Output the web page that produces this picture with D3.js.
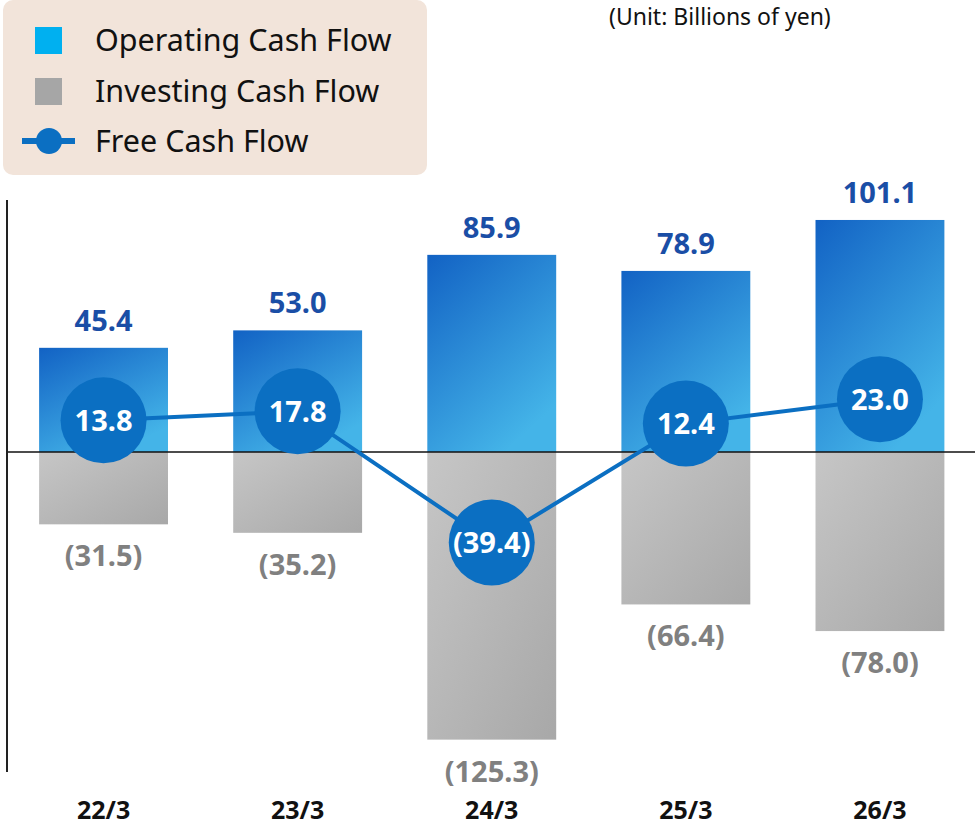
<!DOCTYPE html>
<html>
<head>
<meta charset="utf-8">
<script src="https://cdn.jsdelivr.net/npm/d3@7"></script>
<style>
   body { margin: 0; background: #fff; }
   svg { display: block; font-family: "Noto Sans", "Open Sans", sans-serif; }
</style>
</head>
<body>
<div id="chart"></div>
<script>
// Chart data (billions of yen)
var categories = ["22/3", "23/3", "24/3", "25/3", "26/3"];
var operatingCF = [45.4, 53.0, 85.9, 78.9, 101.1];
var investingCF = [-31.5, -35.2, -125.3, -66.4, -78.0];
var freeCF = [13.8, 17.8, -39.4, 12.4, 23.0];
var legendLabels = ["Operating Cash Flow", "Investing Cash Flow", "Free Cash Flow"];
var unitLabel = "(Unit: Billions of yen)";

var width = 979, height = 827;

var svg = d3.select("#chart")
   .append("svg")
   .attr("width", width)
   .attr("height", height);

var defs = svg.append("defs");

var blueGrad = defs.append("linearGradient")
   .attr("id", "blueGrad")
   .attr("x1", 0).attr("y1", 0).attr("x2", 0.6).attr("y2", 1);
blueGrad.append("stop").attr("offset", "0%").attr("stop-color", "#1262c4");
blueGrad.append("stop").attr("offset", "100%").attr("stop-color", "#44b4e8");

var grayGrad = defs.append("linearGradient")
   .attr("id", "grayGrad")
   .attr("x1", 0).attr("y1", 0).attr("x2", 1).attr("y2", 1);
grayGrad.append("stop").attr("offset", "0%").attr("stop-color", "#c6c6c6");
grayGrad.append("stop").attr("offset", "100%").attr("stop-color", "#a8a8a8");

// Scales
var xScale = d3.scaleBand()
   .domain(categories)
   .range([6.5, 977])
   .paddingInner(0.336)
   .paddingOuter(0.168);

var yScale = d3.scaleLinear()
   .domain([-139.4, 109.8])
   .range([772, 200]);

var data = categories.map(function (c, i) {
   return { cat: c, op: operatingCF[i], inv: investingCF[i], fcf: freeCF[i] };
});

function fmt(v) {
   return v < 0 ? "(" + d3.format(".1f")(-v) + ")" : d3.format(".1f")(v);
}

function cx(d) {
   return xScale(d.cat) + xScale.bandwidth() / 2;
}

// Operating bars
svg.selectAll(".op-bar")
   .data(data)
   .enter().append("rect")
   .attr("class", "op-bar")
   .attr("x", function (d) { return xScale(d.cat); })
   .attr("width", xScale.bandwidth())
   .attr("y", function (d) { return yScale(d.op); })
   .attr("height", function (d) { return yScale(0) - yScale(d.op); })
   .attr("fill", "url(#blueGrad)");

// Investing bars
svg.selectAll(".inv-bar")
   .data(data)
   .enter().append("rect")
   .attr("class", "inv-bar")
   .attr("x", function (d) { return xScale(d.cat); })
   .attr("width", xScale.bandwidth())
   .attr("y", yScale(0))
   .attr("height", function (d) { return yScale(d.inv) - yScale(0); })
   .attr("fill", "url(#grayGrad)");

// Zero line and left axis line
svg.append("line")
   .attr("x1", 7).attr("x2", 975)
   .attr("y1", yScale(0)).attr("y2", yScale(0))
   .attr("stroke", "#111").attr("stroke-width", 1.5);

svg.append("line")
   .attr("x1", 7).attr("x2", 7)
   .attr("y1", yScale.range()[1]).attr("y2", yScale.range()[0])
   .attr("stroke", "#222").attr("stroke-width", 2);

// Value labels
svg.selectAll(".op-label")
   .data(data)
   .enter().append("text")
   .attr("class", "op-label")
   .attr("x", cx)
   .attr("y", function (d) { return yScale(d.op) - 17; })
   .attr("text-anchor", "middle")
   .attr("font-size", 29)
   .attr("font-weight", "bold")
   .attr("fill", "#1a4ea6")
   .text(function (d) { return fmt(d.op); });

svg.selectAll(".inv-label")
   .data(data)
   .enter().append("text")
   .attr("class", "inv-label")
   .attr("x", cx)
   .attr("y", function (d) { return yScale(d.inv) + 42; })
   .attr("text-anchor", "middle")
   .attr("font-size", 29)
   .attr("font-weight", "bold")
   .attr("fill", "#808080")
   .text(function (d) { return fmt(d.inv); });

// Free cash flow line
var line = d3.line()
   .x(cx)
   .y(function (d) { return yScale(d.fcf); });

svg.append("path")
   .datum(data)
   .attr("fill", "none")
   .attr("stroke", "#0b6fc2")
   .attr("stroke-width", 4)
   .attr("d", line);

svg.selectAll(".fcf-dot")
   .data(data)
   .enter().append("circle")
   .attr("class", "fcf-dot")
   .attr("cx", cx)
   .attr("cy", function (d) { return yScale(d.fcf); })
   .attr("r", 43)
   .attr("fill", "#0b6fc2");

svg.selectAll(".fcf-label")
   .data(data)
   .enter().append("text")
   .attr("class", "fcf-label")
   .attr("x", cx)
   .attr("y", function (d) { return yScale(d.fcf); })
   .attr("dy", "0.36em")
   .attr("text-anchor", "middle")
   .attr("font-size", 29)
   .attr("font-weight", "bold")
   .attr("fill", "#fff")
   .text(function (d) { return fmt(d.fcf); });

// Category labels
svg.selectAll(".cat-label")
   .data(categories)
   .enter().append("text")
   .attr("class", "cat-label")
   .attr("x", function (d) { return xScale(d) + xScale.bandwidth() / 2; })
   .attr("y", 819)
   .attr("text-anchor", "middle")
   .attr("font-size", 25)
   .attr("font-weight", "bold")
   .attr("fill", "#111")
   .text(function (d) { return d; });

// Unit label
svg.append("text")
   .attr("x", 609)
   .attr("y", 25)
   .attr("font-size", 23)
   .attr("fill", "#111")
   .text(unitLabel);

// Legend
var legend = svg.append("g");
legend.append("rect")
   .attr("x", 3).attr("y", 0)
   .attr("width", 424).attr("height", 175)
   .attr("rx", 10)
   .attr("fill", "#f2e4da");

var legendRows = [40, 91, 141];
legend.append("rect")
   .attr("x", 35).attr("y", legendRows[0] - 13)
   .attr("width", 27).attr("height", 27)
   .attr("fill", "#00b0f0");
legend.append("rect")
   .attr("x", 35).attr("y", legendRows[1] - 13)
   .attr("width", 27).attr("height", 27)
   .attr("fill", "#a6a6a6");
legend.append("line")
   .attr("x1", 22).attr("x2", 75)
   .attr("y1", legendRows[2]).attr("y2", legendRows[2])
   .attr("stroke", "#0b6fc2").attr("stroke-width", 6);
legend.append("circle")
   .attr("cx", 49).attr("cy", legendRows[2])
   .attr("r", 13)
   .attr("fill", "#0b6fc2");

legend.selectAll(".legend-text")
   .data(legendLabels)
   .enter().append("text")
   .attr("class", "legend-text")
   .attr("x", 95)
   .attr("y", function (d, i) { return legendRows[i]; })
   .attr("dy", "0.35em")
   .attr("font-size", 30.5)
   .attr("fill", "#111")
   .text(function (d) { return d; });
</script>
</body>
</html>
